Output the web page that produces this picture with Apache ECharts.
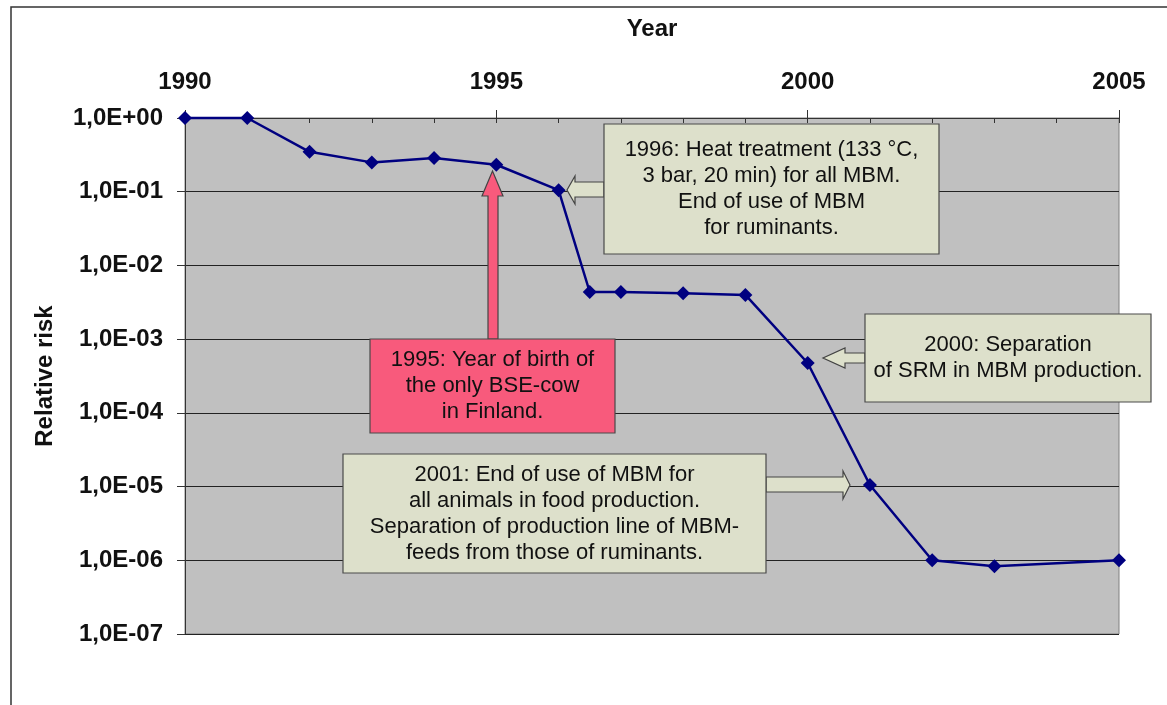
<!DOCTYPE html>
<html>
<head>
<meta charset="utf-8">
<script src="https://cdn.jsdelivr.net/npm/echarts@6/dist/echarts.min.js"></script>
<style>
  html, body { margin: 0; padding: 0; background: #fff; }
  #chart { width: 1167px; height: 705px; }
</style>
</head>
<body>
<div id="chart"></div>
<script>
// risk data
const years = [1990, 1991, 1992, 1993, 1994, 1995, 1996, 1996.5, 1997, 1998, 1999, 2000, 2001, 2002, 2003, 2005];
const risk = [1.0, 1.0, 0.348, 0.25, 0.287, 0.232, 0.105, 0.00436, 0.00436, 0.0042, 0.00398, 0.000475, 0.0000105, 0.000001, 0.00000083, 0.000001];
const yearTicks = [1990, 1995, 2000, 2005];

const FONT = '"Liberation Sans", Arial, sans-serif';
const BOX = '#DDE0CB';
const PINK = '#F85A7C';

function expLabel(v) {
  const e = Math.round(Math.log10(v));
  const sign = e < 0 ? '-' : '+';
  return '1,0E' + sign + String(Math.abs(e)).padStart(2, '0');
}

function noteBox(x, y, w, h, fill, text) {
  return {
    type: 'group',
    children: [
      { type: 'rect', z: 50, shape: { x: x, y: y, width: w, height: h },
        style: { fill: fill, stroke: '#4a4a4a', lineWidth: 1.2 } },
      { type: 'text', z: 51, x: x + w / 2, y: y + h / 2,
        style: { text: text, fill: '#111', fontSize: 22, fontFamily: FONT, lineHeight: 26,
                 align: 'center', verticalAlign: 'middle', textAlign: 'center', textVerticalAlign: 'middle' } }
    ]
  };
}

function arrow(points, fill) {
  return { type: 'polygon', z: 49, shape: { points: points },
           style: { fill: fill, stroke: '#444', lineWidth: 1.2 } };
}

const chart = echarts.init(document.getElementById('chart'));
chart.setOption({
  animation: false,
  textStyle: { fontFamily: FONT },
  grid: { left: 185, top: 118, width: 934, height: 516, show: true,
          backgroundColor: '#C0C0C0', borderColor: '#808080', borderWidth: 1 },
  xAxis: [
    {
      type: 'value', position: 'top', min: 1990, max: 2005, interval: 5,
      name: 'Year', nameLocation: 'middle', nameGap: 77,
      nameTextStyle: { fontSize: 24, fontWeight: 'bold', color: '#111' },
      axisLine: { lineStyle: { color: '#333' } },
      axisTick: { show: true, length: 8, lineStyle: { color: '#333' } },
      axisLabel: { fontSize: 24, fontWeight: 'bold', color: '#111', margin: 24,
                   customValues: yearTicks, formatter: v => String(v) },
      splitLine: { show: false }
    },
    {
      type: 'value', position: 'top', min: 1990, max: 2005, interval: 1,
      axisLine: { show: false },
      axisTick: { show: true, inside: true, length: 5, lineStyle: { color: '#333' } },
      axisLabel: { show: false },
      splitLine: { show: false }
    }
  ],
  yAxis: {
    type: 'log', logBase: 10, min: 1e-7, max: 1,
    name: 'Relative risk', nameLocation: 'middle', nameGap: 128, nameRotate: 90,
    nameTextStyle: { fontSize: 24, fontWeight: 'bold', color: '#111' },
    axisLine: { show: true, lineStyle: { color: '#333' } },
    axisTick: { show: true, length: 8, lineStyle: { color: '#333' } },
    axisLabel: { fontSize: 24, fontWeight: 'bold', color: '#111', margin: 22, formatter: expLabel },
    splitLine: { show: true, lineStyle: { color: '#222', width: 1 } }
  },
  graphic: [
    { type: 'rect', z: 60, silent: true, shape: { x: 11, y: 7, width: 1400, height: 900 },
      style: { fill: 'none', stroke: '#333', lineWidth: 1.5 } },
    arrow([[604, 182], [575, 182], [575, 176], [567, 190], [575, 204], [575, 197], [604, 197]], BOX),
    noteBox(604, 124, 335, 130, BOX,
      '1996: Heat treatment (133 °C,\n3 bar, 20 min) for all MBM.\nEnd of use of MBM\nfor ruminants.'),
    arrow([[488, 339], [488, 196], [482, 196], [492.5, 171], [503, 196], [498, 196], [498, 339]], PINK),
    noteBox(370, 339, 245, 94, PINK,
      '1995: Year of birth of\nthe only BSE-cow\nin Finland.'),
    arrow([[865, 353], [845, 353], [845, 348], [823, 358], [845, 368], [845, 363], [865, 363]], BOX),
    noteBox(865, 314, 286, 88, BOX,
      '2000: Separation\nof SRM in MBM production.'),
    arrow([[766, 477], [843, 477], [843, 471], [850, 485], [843, 499], [843, 492], [766, 492]], BOX),
    noteBox(343, 454, 423, 119, BOX,
      '2001: End of use of MBM for\nall animals in food production.\nSeparation of production line of MBM-\nfeeds from those of ruminants.')
  ],
  series: [
    {
      type: 'line',
      xAxisIndex: 0,
      data: years.map((y, i) => [y, risk[i]]),
      symbol: 'diamond',
      symbolSize: 14,
      clip: false,
      itemStyle: { color: '#000080' },
      lineStyle: { color: '#000080', width: 2.5 },
      z: 10
    }
  ]
});
</script>
</body>
</html>
